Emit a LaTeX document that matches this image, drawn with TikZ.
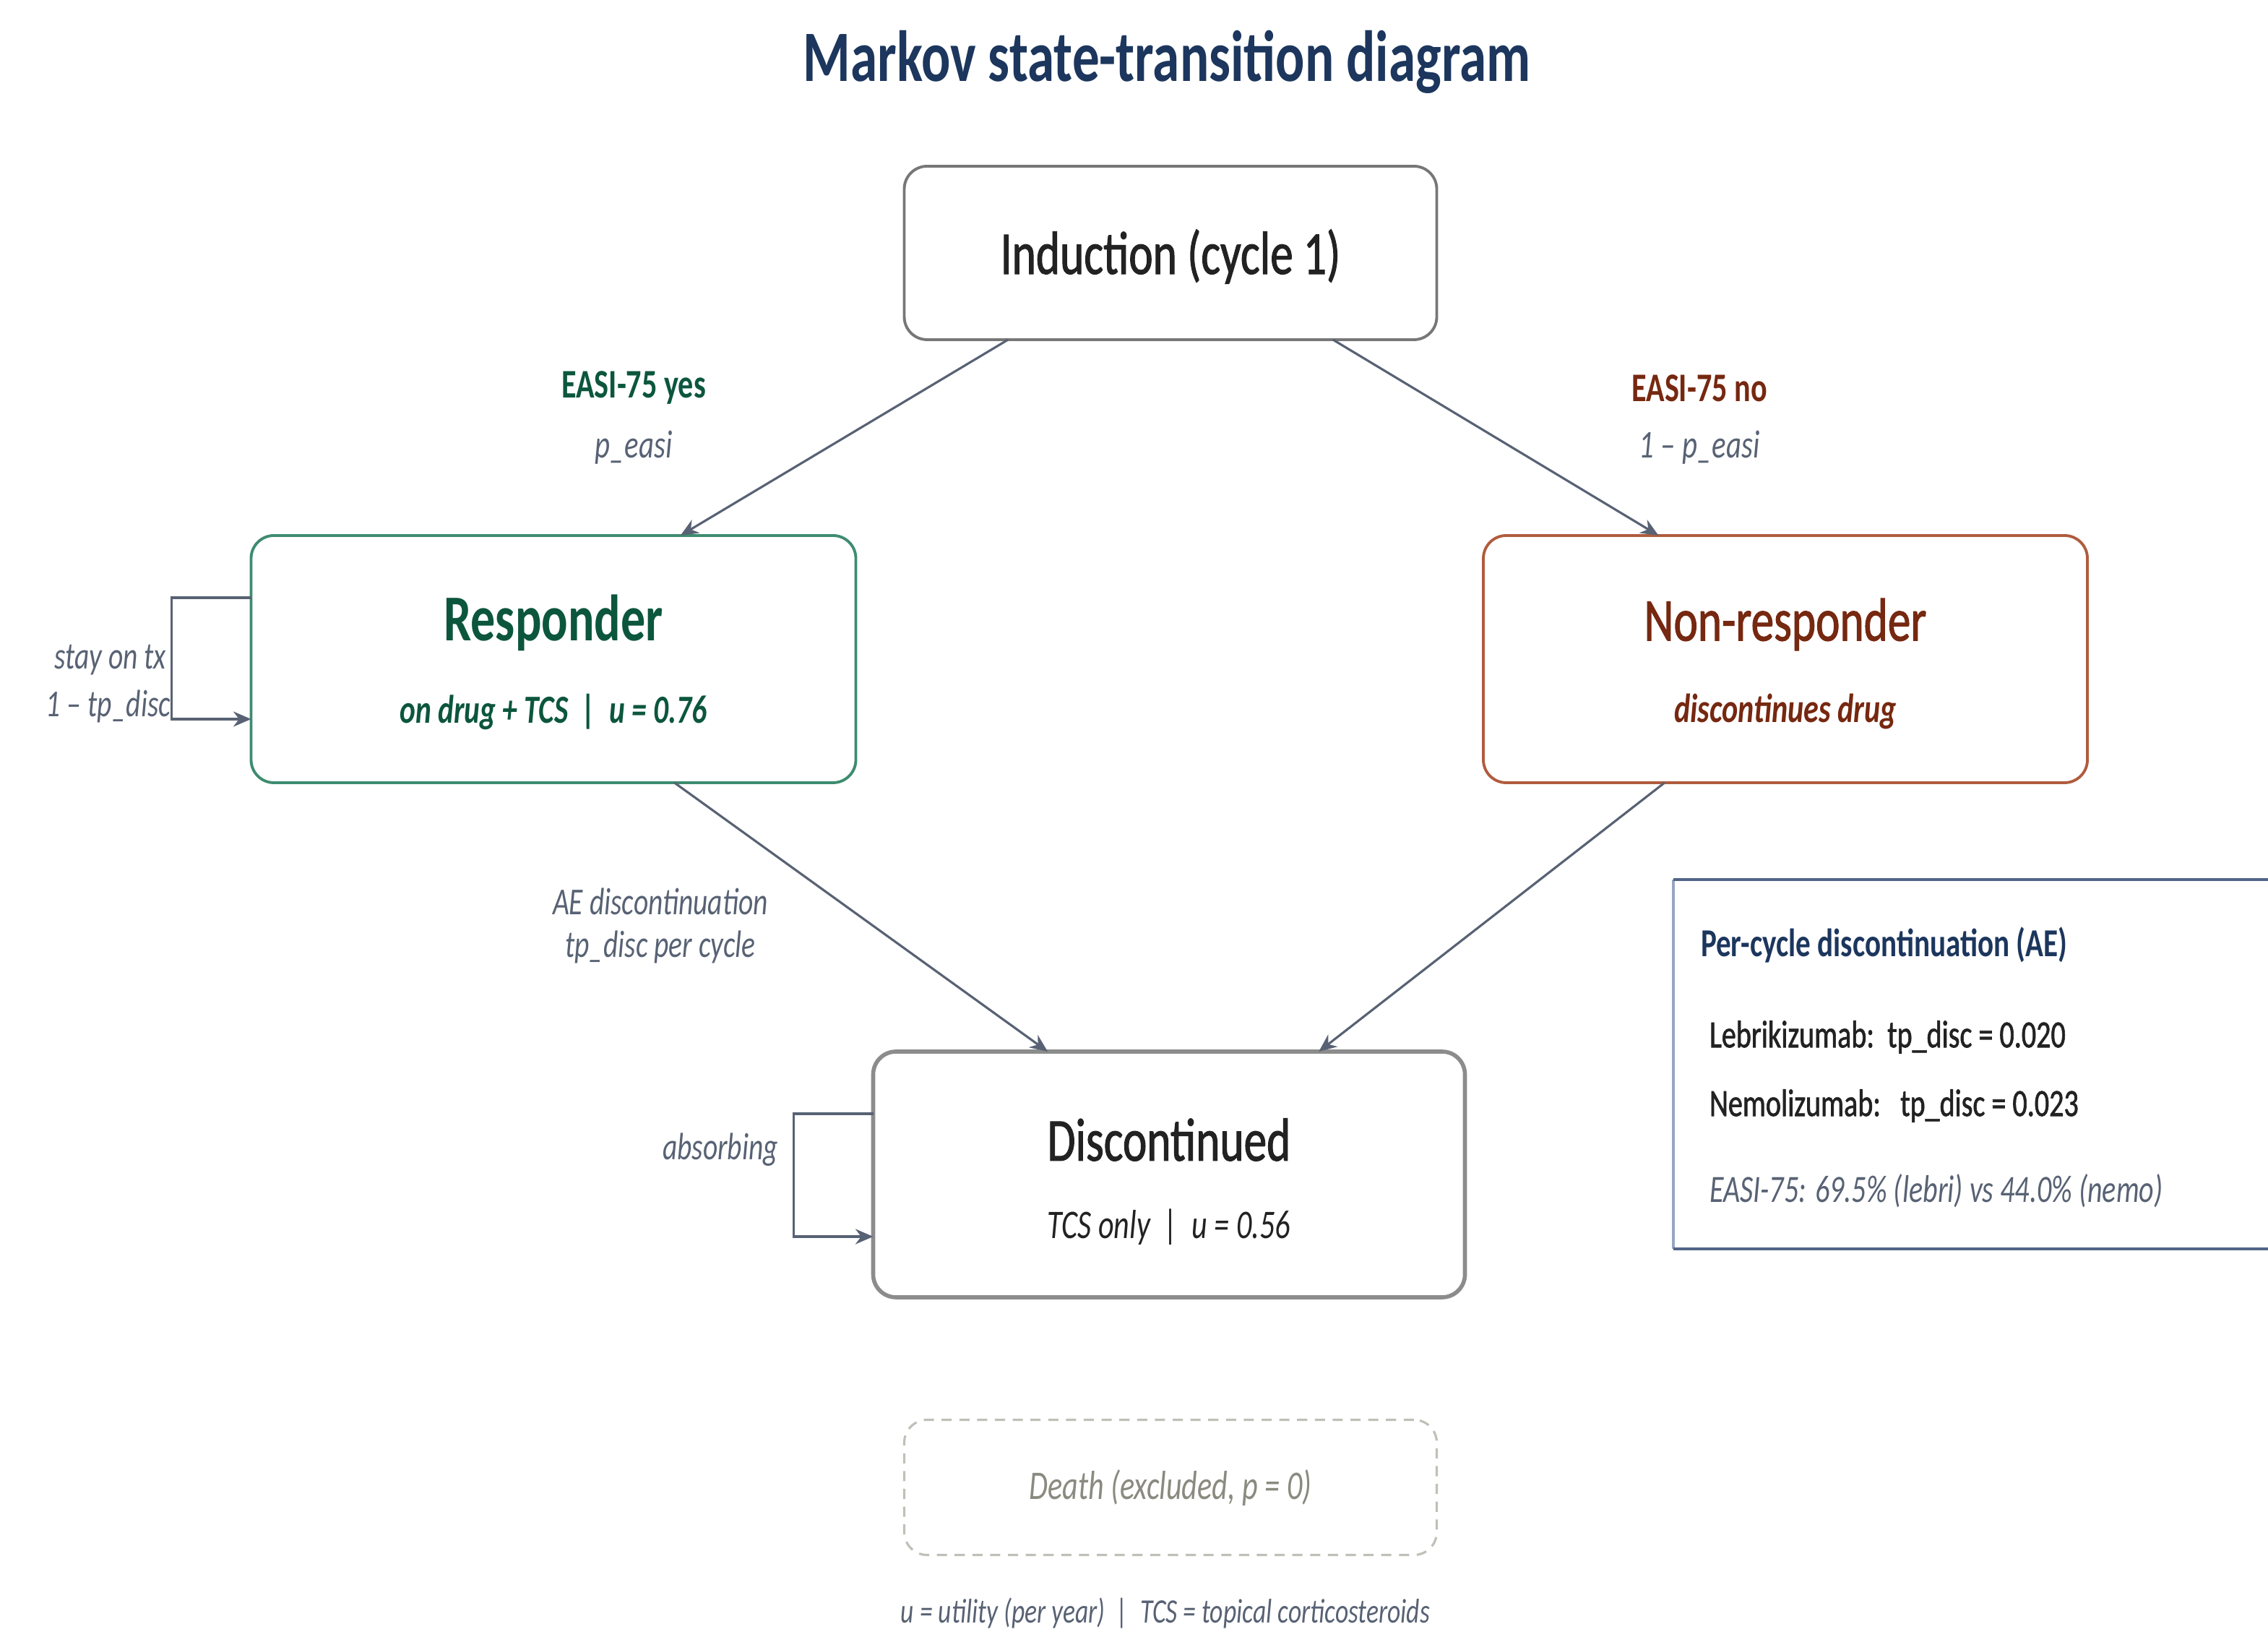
\documentclass[tikz,border=0pt]{standalone}
\usepackage{fontspec}
\setmainfont{Carlito}[FakeStretch=0.75]
\newfontfamily\medfont{Carlito}[FakeStretch=0.75, FakeBold=1.2]
\usepackage{tikz}
\usetikzlibrary{arrows.meta,positioning,calc}
\definecolor{navy}{RGB}{28,54,93}
\definecolor{leaf}{RGB}{12,86,62}
\definecolor{leafline}{RGB}{62,140,112}
\definecolor{rust}{RGB}{118,40,16}
\definecolor{rustline}{RGB}{176,92,62}
\definecolor{slate}{RGB}{88,98,116}
\definecolor{ink}{RGB}{34,34,34}
\definecolor{ash}{RGB}{140,140,140}
\definecolor{mist}{RGB}{192,192,184}
\definecolor{fog}{RGB}{138,138,128}
\definecolor{paleblue}{RGB}{150,166,192}
\definecolor{deepblue}{RGB}{82,100,136}

\begin{document}
\begin{tikzpicture}[
  every node/.style={inner sep=0pt, outer sep=0pt},
  statebox/.style={draw, line width=1.1pt, rounded corners=9pt, fill=white},
  stitle/.style={font=\fontsize{24}{28}\selectfont\medfont},
  ssub/.style={font=\fontsize{16}{19}\selectfont\itshape},
  lbl/.style={font=\fontsize{15}{18}\selectfont\itshape, text=slate, align=center},
  arr/.style={-{Stealth[length=7pt,width=6pt]}, line width=0.9pt, slate},
  selfloop/.style={-{Stealth[length=7pt,width=6pt]}, line width=0.9pt, slate},
  info/.style={font=\fontsize{15.2}{18}\selectfont\medfont, anchor=west}
]
\useasboundingbox (0,0) rectangle (31.39,22.64);
\clip (0,0) rectangle (31.39,22.64);

% title
\node[font=\fontsize{28.5}{33}\selectfont\bfseries, text=navy] (title) at (16.15,21.78) {Markov state-transition diagram};

% states
\node[statebox, draw=ash!85!black, minimum width=7.37cm, minimum height=2.40cm] (ind) at (16.20,19.14) {};
\node[stitle, text=ink] (ind-t) at ($(ind.center)+(0,-0.05)$) {Induction (cycle 1)};

\node[statebox, draw=leafline, minimum width=8.37cm, minimum height=3.42cm] (resp) at (7.66,13.52) {};
\node[stitle, font=\fontsize{25.8}{30}\selectfont\bfseries, text=leaf] (resp-t) at ($(resp.center)+(0,0.50)$) {Responder};
\node[ssub, font=\fontsize{15.7}{19}\selectfont\bfseries\itshape, text=leaf] (resp-s) at ($(resp.center)+(0,-0.73)$) {on drug + TCS~~|~~u = 0.76};

\node[statebox, draw=rustline, minimum width=8.36cm, minimum height=3.42cm] (nonr) at (24.71,13.52) {};
\node[stitle, text=rust] (nonr-t) at ($(nonr.center)+(0,0.48)$) {Non-responder};
\node[ssub, font=\fontsize{16}{19}\selectfont\bfseries\itshape, text=rust] (nonr-s) at ($(nonr.center)+(0,-0.73)$) {discontinues drug};

\node[statebox, draw=ash, line width=1.6pt, minimum width=8.19cm, minimum height=3.40cm] (disc) at (16.18,6.39) {};
\node[stitle, text=ink] (disc-t) at ($(disc.center)+(0,0.48)$) {Discontinued};
\node[ssub, text=ink] (disc-s) at ($(disc.center)+(0,-0.73)$) {TCS only~~|~~u = 0.56};

\node[statebox, draw=mist, dashed, dash pattern=on 4pt off 3pt, line width=0.9pt, minimum width=7.37cm, minimum height=1.87cm] (death) at (16.20,2.06) {};
\node[ssub, text=fog] (death-t) at (death.center) {Death (excluded, p = 0)};

% transitions
\coordinate (ind-l) at ($(ind.south west)!0.195!(ind.south east)$);
\coordinate (ind-r) at ($(ind.south west)!0.805!(ind.south east)$);
\coordinate (resp-in) at ($(resp.north west)!0.71!(resp.north east)$);
\coordinate (nonr-in) at ($(nonr.north west)!0.29!(nonr.north east)$);
\coordinate (resp-out) at ($(resp.south west)!0.70!(resp.south east)$);
\coordinate (nonr-out) at ($(nonr.south west)!0.30!(nonr.south east)$);
\coordinate (disc-l) at ($(disc.north west)!0.295!(disc.north east)$);
\coordinate (disc-r) at ($(disc.north west)!0.753!(disc.north east)$);
\foreach \a/\b in {ind-l/resp-in, ind-r/nonr-in, resp-out/disc-l, nonr-out/disc-r}
  \draw[arr] (\a) -- (\b);

% self loops
\draw[selfloop] ($(resp.west)+(0,0.85)$) -- ++(-1.10,0) |- ($(resp.west)+(0,-0.83)$);
\draw[selfloop] ($(disc.west)+(0,0.84)$) -- ++(-1.10,0) |- ($(disc.west)+(0,-0.86)$);

% labels
\node[font=\fontsize{16}{19}\selectfont\bfseries, text=leaf] (yes) at (8.77,17.27) {EASI-75 yes};
\node[lbl, font=\fontsize{15.5}{18}\selectfont\itshape] (yes-p) at (8.77,16.45) {p\_easi};
\node[font=\fontsize{16}{19}\selectfont\bfseries, text=rust] (no) at (23.52,17.27) {EASI-75 no};
\node[lbl, font=\fontsize{15.5}{18}\selectfont\itshape] (no-p) at (23.52,16.45) {1 -- p\_easi};
\node[lbl] (ae) at (9.14,9.83) {AE discontinuation\\[-1pt]tp\_disc per cycle};
\node[lbl, anchor=east] (stay) at (2.30,13.51) {stay on tx};
\node[lbl, anchor=east] (stay-p) at (2.36,12.87) {1 -- tp\_disc};
\node[lbl, anchor=east] (absorb) at (10.77,6.73) {absorbing};

% info panel
\node[minimum width=9.0cm, minimum height=5.11cm, anchor=north west] (panel) at (23.16,10.47) {};
\draw[paleblue, line width=1.1pt] (panel.north west) -- (panel.south west);
\draw[deepblue, line width=1.1pt] (panel.north east) -- (panel.north west) (panel.south west) -- (panel.south east);
\node[info, font=\fontsize{15.6}{19}\selectfont\bfseries, text=navy] (panel-h) at (23.54,9.57) {Per-cycle discontinuation (AE)};
\node[info, text=ink] (lebri) at (23.66,8.29) {Lebrikizumab:~~tp\_disc = 0.020};
\node[info, text=ink] (nemo) at (23.66,7.34) {Nemolizumab:~~~tp\_disc = 0.023};
\node[info, font=\fontsize{15.2}{18}\selectfont\itshape, text=slate] (easi) at (23.66,6.16) {EASI-75: 69.5\% (lebri) vs 44.0\% (nemo)};

% footnote
\node[lbl, font=\fontsize{13.5}{16}\selectfont\itshape] (foot) at (16.13,0.32) {u = utility (per year)~~|~~TCS = topical corticosteroids};
\end{tikzpicture}
\end{document}
